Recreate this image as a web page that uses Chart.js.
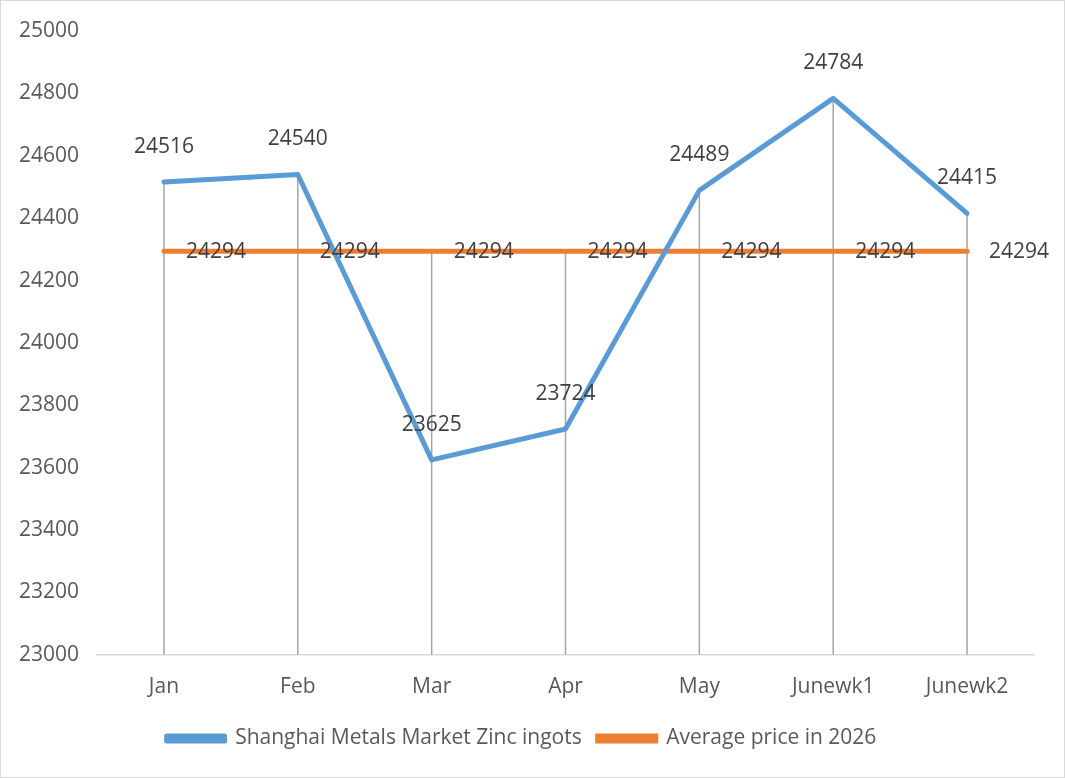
<!DOCTYPE html>
<html>
<head>
<meta charset="utf-8">
<script src="https://cdn.jsdelivr.net/npm/chart.js@4/dist/chart.umd.min.js"></script>
<style>
  html,body{margin:0;padding:0;background:#fff}
  #wrap{position:relative;width:1063px;height:776px;border:1px solid #d9d9d9;background:#fff}
</style>
</head>
<body>
<div id="wrap"><canvas id="chart"></canvas></div>
<script>
// ============ DATA ============
const categories = ['Jan','Feb','Mar','Apr','May','Junewk1','Junewk2'];
const zincPrices = [24516, 24540, 23625, 23724, 24489, 24784, 24415];
const avgPrices  = [24294, 24294, 24294, 24294, 24294, 24294, 24294];
const yTicks     = [23000, 23200, 23400, 23600, 23800, 24000, 24200, 24400, 24600, 24800, 25000];

const FONT = '"Open Sans", "Noto Sans", sans-serif';

// drop lines from the highest point of each category to the axis
const dropLines = {
  id: 'dropLines',
  beforeDatasetsDraw(chart) {
    const ctx = chart.ctx, bottom = chart.chartArea.bottom;
    const metas = chart.data.datasets.map((d,i)=>chart.getDatasetMeta(i));
    ctx.save();
    ctx.strokeStyle = '#a5a5a5';
    ctx.lineWidth = 1.5;
    categories.forEach((c,i) => {
      const x = metas[0].data[i].x;
      const top = Math.min(...metas.map(m=>m.data[i].y));
      ctx.beginPath();
      ctx.moveTo(x, top);
      ctx.lineTo(x, bottom);
      ctx.stroke();
    });
    ctx.restore();
  }
};

// data labels: zinc above, average to the right
const valueLabels = {
  id: 'valueLabels',
  afterDatasetsDraw(chart) {
    const ctx = chart.ctx;
    ctx.save();
    ctx.font = '21px ' + FONT;
    ctx.fillStyle = '#404040';
    ctx.textBaseline = 'middle';
    chart.getDatasetMeta(0).data.forEach((p,i) => {
      ctx.textAlign = 'center';
      ctx.fillText(zincPrices[i], p.x, p.y - 35);
    });
    chart.getDatasetMeta(1).data.forEach((p,i) => {
      ctx.textAlign = 'left';
      ctx.fillText(avgPrices[i], p.x + 22, p.y + 1);
    });
    ctx.restore();
  }
};

new Chart(document.getElementById('chart'), {
  type: 'line',
  data: {
    labels: categories,
    datasets: [
      { label: 'Shanghai Metals Market Zinc ingots', data: zincPrices, borderColor: '#5b9bd5', backgroundColor: '#5b9bd5',
        borderWidth: 5, pointRadius: 0, tension: 0, borderCapStyle: 'round', borderJoinStyle: 'round' },
      { label: 'Average price in 2026', data: avgPrices, borderColor: '#ed7d31', backgroundColor: '#ed7d31',
        borderWidth: 5, pointRadius: 0, tension: 0, borderCapStyle: 'round' }
    ]
  },
  options: {
    responsive: true, maintainAspectRatio: false, animation: false,
    layout: { padding: { left: 8, right: 30, top: 30, bottom: 18 } },
    plugins: {
      tooltip: { enabled: false },
      legend: {
        position: 'bottom',
        labels: {
          color: '#595959', font: { size: 21, family: FONT },
          boxWidth: 58, boxHeight: 5, padding: 16
        }
      }
    },
    scales: {
      x: {
        offset: true,
        grid: { display: false },
        border: { display: true, color: '#d9d9d9', width: 1.5 },
        ticks: { color: '#595959', font: { size: 21, family: FONT }, padding: 12, maxRotation: 0 }
      },
      y: {
        min: yTicks[0], max: yTicks[yTicks.length-1],
        afterBuildTicks: s => { s.ticks = yTicks.map(v=>({value:v})); },
        grid: { display: false },
        border: { display: false },
        ticks: { color: '#595959', font: { size: 21, family: FONT }, padding: 10, callback: v => String(v) }
      }
    }
  },
  plugins: [dropLines, valueLabels]
});
</script>
</body>
</html>
